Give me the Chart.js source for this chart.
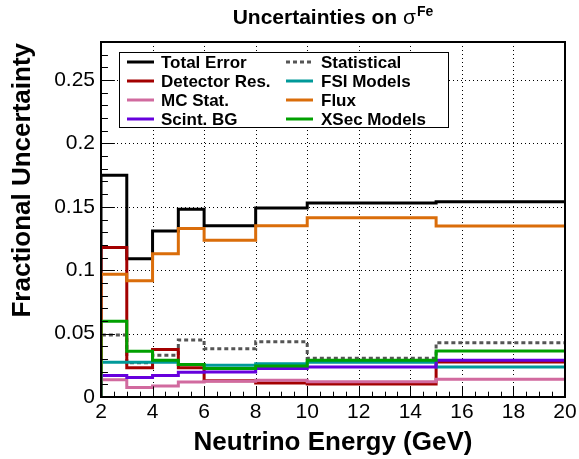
<!DOCTYPE html>
<html><head><meta charset="utf-8">
<script src="https://cdn.jsdelivr.net/npm/chart.js@4.4.1/dist/chart.umd.min.js"></script>
<style>html,body{margin:0;padding:0;background:#fff;} #wrap{width:579px;height:459px;}</style>
</head><body><div id="wrap"><canvas id="c" width="579" height="459"></canvas></div>
<script>
// ---- data ----
const binEdges = [2, 3, 4, 5, 6, 8, 10, 15, 20];
const totalError   = [0.175, 0.109, 0.131, 0.148, 0.135, 0.149, 0.153, 0.154];
const statistical  = [0.049, 0.027, 0.033, 0.045, 0.038, 0.0435, 0.0305, 0.0427];
const detectorRes  = [0.118, 0.023, 0.0374, 0.023, 0.0128, 0.011, 0.0102, 0.0276];
const fsiModels    = [0.0275, 0.0275, 0.0275, 0.0256, 0.025, 0.0263, 0.0275, 0.0237];
const mcStat       = [0.0137, 0.0074, 0.0087, 0.0118, 0.0124, 0.0132, 0.012, 0.014];
const flux         = [0.0969, 0.0916, 0.113, 0.133, 0.1237, 0.135, 0.1413, 0.1348];
const scintBG      = [0.0169, 0.0153, 0.017, 0.0196, 0.0197, 0.0224, 0.0237, 0.029];
const xsecModels   = [0.0598, 0.036, 0.029, 0.0257, 0.0224, 0.0245, 0.029, 0.0363];
const seriesNames  = ['Total Error', 'Statistical', 'Detector Res.', 'FSI Models', 'MC Stat.', 'Flux', 'Scint. BG', 'XSec Models'];
const xTickLabels  = ['2', '4', '6', '8', '10', '12', '14', '16', '18', '20'];
const yTickLabels  = ['0', '0.05', '0.1', '0.15', '0.2', '0.25'];
const xTitle = 'Neutrino Energy (GeV)';
const yTitle = 'Fractional Uncertainty';

// ---- styling ----
const seriesValues = [totalError, statistical, detectorRes, fsiModels, mcStat, flux, scintBG, xsecModels];
const seriesColors = ['#000000', '#555555', '#a30000', '#009999', '#d16a9f', '#da6d0a', '#6600dd', '#00a000'];
const seriesDash   = [[], [4, 3], [], [], [], [], [], []];
const FONT = '"Liberation Sans", Arial, Helvetica, sans-serif';

function histPoints(vals) {
  const pts = [{x: binEdges[0], y: 0}];
  vals.forEach((v, i) => pts.push({x: binEdges[i], y: v}));
  pts.push({x: binEdges[binEdges.length - 1], y: vals[vals.length - 1]});
  return pts;
}

const datasets = seriesValues.map((vals, i) => ({
  label: seriesNames[i],
  data: histPoints(vals),
  borderColor: seriesColors[i],
  backgroundColor: seriesColors[i],
  borderWidth: 3,
  borderDash: seriesDash[i],
  borderJoinStyle: 'miter',
  borderCapStyle: 'butt',
  stepped: 'before',
  pointRadius: 0,
  fill: false,
  tension: 0,
  order: -i
}));

const rootStyle = {
  id: 'rootStyle',
  beforeDatasetsDraw(chart) {
    const {ctx, chartArea: a, scales: {x, y}} = chart;
    ctx.save();
    ctx.strokeStyle = '#000';
    ctx.lineWidth = 1;
    ctx.setLineDash([1, 3]);
    xTickLabels.forEach(l => {
      const px = Math.round(x.getPixelForValue(parseFloat(l))) + 0.5;
      ctx.beginPath(); ctx.moveTo(px, a.top); ctx.lineTo(px, a.bottom); ctx.stroke();
    });
    yTickLabels.forEach(l => {
      const py = Math.round(y.getPixelForValue(parseFloat(l))) + 0.5;
      ctx.beginPath(); ctx.moveTo(a.left, py); ctx.lineTo(a.right, py); ctx.stroke();
    });
    ctx.restore();
  },
  afterDatasetsDraw(chart) {
    const {ctx, chartArea: a, scales: {x, y}} = chart;
    ctx.save();
    // ticks
    ctx.strokeStyle = '#000';
    ctx.lineWidth = 1;
    ctx.setLineDash([]);
    const hMajor = 0.03 * (a.bottom - a.top), wMajor = 0.03 * (a.right - a.left);
    for (let k = 0; k <= 36; k++) {
      const v = x.min + k * 0.5;
      const px = Math.round(x.getPixelForValue(v)) + 0.5;
      const len = (k % 4 === 0) ? hMajor : hMajor / 2;
      ctx.beginPath(); ctx.moveTo(px, a.bottom); ctx.lineTo(px, a.bottom - len); ctx.stroke();
    }
    for (let k = 0; k <= 28; k++) {
      const v = k * 0.01;
      const py = Math.round(y.getPixelForValue(v)) + 0.5;
      const len = (k % 5 === 0) ? wMajor : wMajor / 2;
      ctx.beginPath(); ctx.moveTo(a.left, py); ctx.lineTo(a.left + len, py); ctx.stroke();
    }
    // frame
    ctx.lineWidth = 2;
    ctx.strokeRect(a.left, a.top, a.right - a.left, a.bottom - a.top);

    // legend
    const lx = 119, ly = 52, lw = 329, lh = 75;
    ctx.fillStyle = '#fff';
    ctx.fillRect(lx, ly, lw, lh);
    ctx.lineWidth = 1;
    ctx.strokeRect(lx + 0.5, ly + 0.5, lw, lh);
    const rowY = [62, 81, 100, 119];
    const colLineX = [127, 286], colTextX = [161, 321];
    ctx.font = 'bold 17px ' + FONT;
    ctx.textBaseline = 'middle';
    ctx.textAlign = 'left';
    chart.data.datasets.forEach((ds, i) => {
      const r = i >> 1, c = i & 1;
      const yy = rowY[r];
      ctx.strokeStyle = ds.borderColor;
      ctx.lineWidth = 3;
      ctx.setLineDash(ds.borderDash || []);
      ctx.beginPath(); ctx.moveTo(colLineX[c], yy); ctx.lineTo(colLineX[c] + 27, yy); ctx.stroke();
      ctx.setLineDash([]);
      ctx.fillStyle = '#000';
      ctx.fillText(ds.label, colTextX[c], yy + 1);
    });

    // title
    const cx = (a.left + a.right) / 2;
    const fMain = 'bold 21px ' + FONT, fSym = '21px ' + FONT, fSup = 'bold 14px ' + FONT;
    const p1 = 'Uncertainties on ', p2 = '\u03C3', p3 = 'Fe';
    ctx.font = fMain; const w1 = ctx.measureText(p1).width;
    ctx.font = fSym; const w2 = ctx.measureText(p2).width;
    ctx.font = fSup; const w3 = ctx.measureText(p3).width;
    let tx = cx - (w1 + w2 + w3 + 1) / 2;
    const tb = 24;
    ctx.textBaseline = 'alphabetic';
    ctx.fillStyle = '#000';
    ctx.font = fMain; ctx.fillText(p1, tx, tb); tx += w1;
    ctx.font = fSym; ctx.fillText(p2, tx, tb); tx += w2 + 1;
    ctx.font = fSup; ctx.fillText(p3, tx, tb - 8);

    // axis titles
    ctx.font = 'bold 26px ' + FONT;
    ctx.textAlign = 'center';
    ctx.fillText(xTitle, cx, 450);
    ctx.save();
    ctx.translate(30, a.top + 1);
    ctx.rotate(-Math.PI / 2);
    ctx.textAlign = 'right';
    ctx.fillText(yTitle, 0, 0);
    ctx.restore();
    ctx.restore();
  }
};

new Chart(document.getElementById('c'), {
  type: 'line',
  data: {datasets},
  plugins: [rootStyle],
  options: {
    responsive: false,
    animation: false,
    devicePixelRatio: 1,
    layout: {padding: {left: 0, top: 42, right: 14, bottom: 0}},
    plugins: {legend: {display: false}, title: {display: false}, tooltip: {enabled: false}},
    scales: {
      x: {
        type: 'linear', min: 2, max: 20,
        afterBuildTicks: s => { s.ticks = xTickLabels.map(l => ({value: parseFloat(l)})); },
        afterFit: s => { s.height = 62; s.paddingLeft = 0; s.paddingRight = 0; },
        ticks: {callback: (v, i) => xTickLabels[i], font: {family: FONT, size: 21}, color: '#000', padding: 3, maxRotation: 0, autoSkip: false},
        grid: {display: false, drawTicks: false},
        border: {display: false}
      },
      y: {
        type: 'linear', min: 0, max: 0.28,
        afterBuildTicks: s => { s.ticks = yTickLabels.map(l => ({value: parseFloat(l)})); },
        afterFit: s => { s.width = 101; s.paddingTop = 0; s.paddingBottom = 0; },
        ticks: {callback: (v, i) => yTickLabels[i], font: {family: FONT, size: 21}, color: '#000', padding: 6, autoSkip: false},
        grid: {display: false, drawTicks: false},
        border: {display: false}
      }
    }
  }
});
</script>
</body></html>
